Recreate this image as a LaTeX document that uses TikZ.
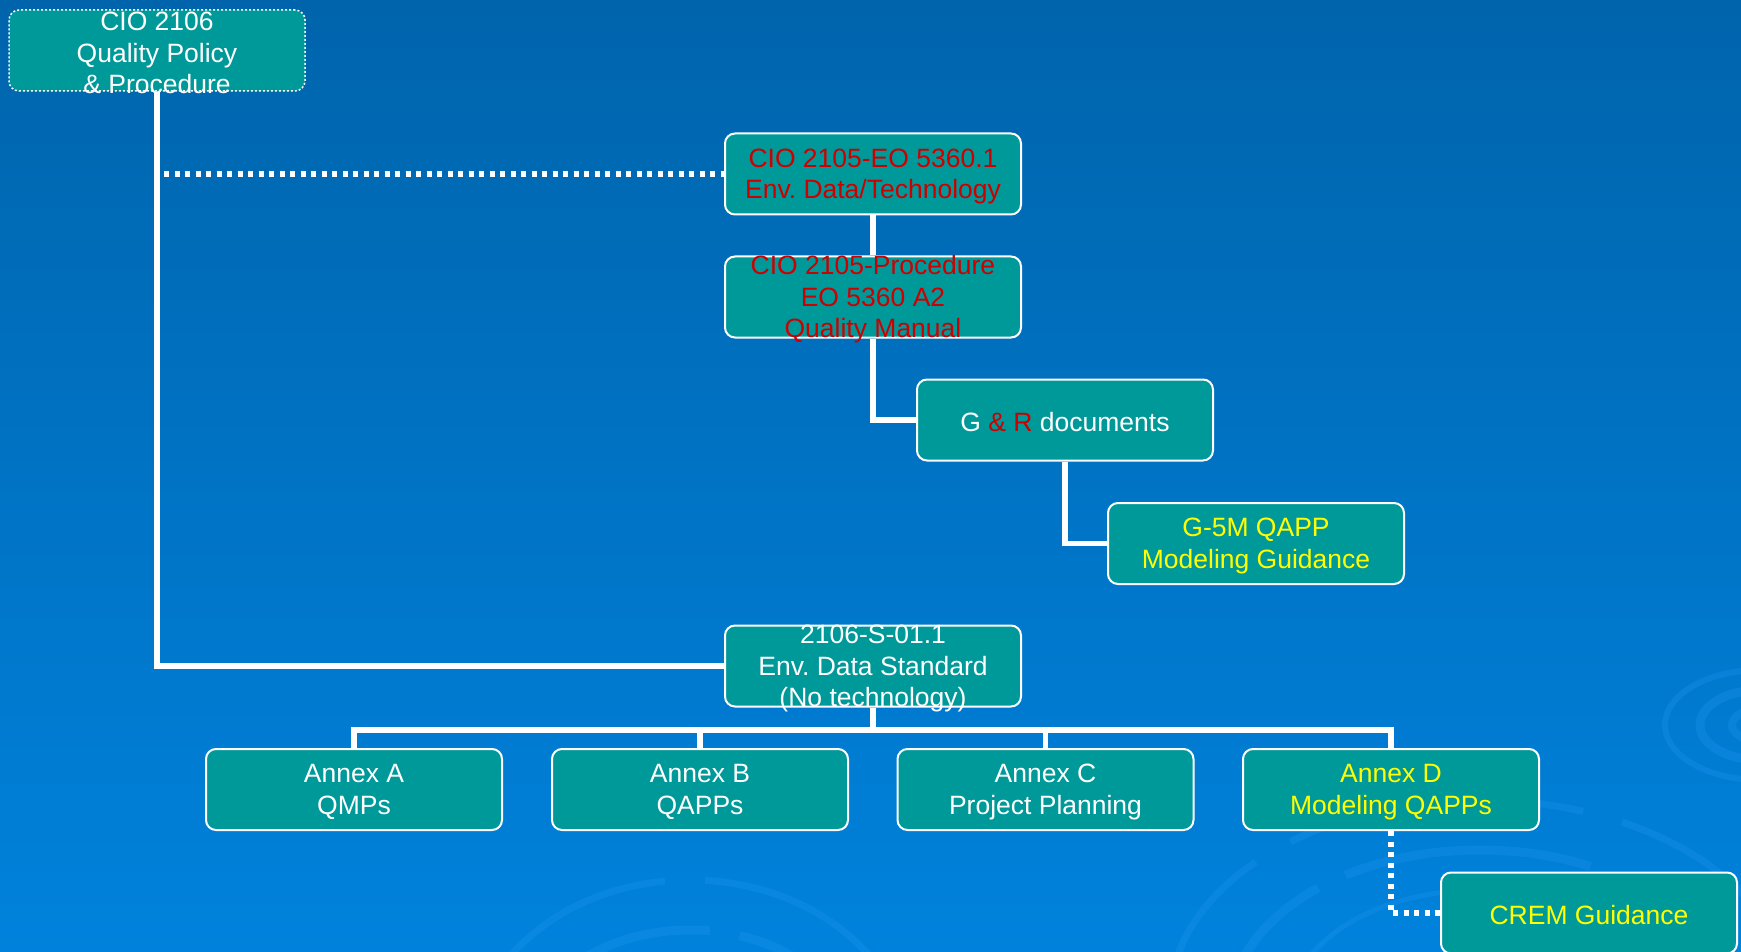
\documentclass[tikz,border=0pt]{standalone}
\usepackage{fontspec}
\setmainfont{Liberation Sans}
\frenchspacing
\definecolor{bgtop}{RGB}{0,100,172}
\definecolor{bgbot}{RGB}{0,130,220}
\definecolor{boxfill}{RGB}{0,153,153}
\definecolor{redtxt}{RGB}{204,0,0}
\definecolor{yeltxt}{RGB}{255,255,0}
\definecolor{swirl}{RGB}{30,150,240}
\begin{document}
\begin{tikzpicture}[x=1pt,y=-1pt,
  docbox/.style={draw=white, line width=2pt, fill=boxfill, rounded corners=10pt,
    minimum width=296pt, minimum height=81pt, inner sep=0pt},
  doctext/.style={align=center, font=\fontsize{26.5}{31.5}\selectfont, text=white, inner sep=0pt, yshift=-2.5pt},
  redt/.style={text=redtxt},
  yelt/.style={text=yeltxt},
  link/.style={draw=white, line width=5.5pt},
  dotlink/.style={draw=white, line width=5.5pt, dash pattern=on 5pt off 5.5pt},
  swirlarc/.style={draw=swirl, opacity=0.3, line width=7pt}]
\useasboundingbox (0,0) rectangle (1741,952);
\shade[top color=bgtop, bottom color=bgbot] (0,0) rectangle (1741,952);
% decorative swirls
\begin{scope}
\clip (0,0) rectangle (1741,952);
\draw[swirlarc, dash pattern=on 300pt off 40pt] (1480,1000) ellipse (310 and 200);
\draw[swirlarc, line width=9pt, dash pattern=on 250pt off 30pt] (1480,1010) ellipse (250 and 160);
\draw[swirlarc, line width=5pt] (1480,1010) ellipse (190 and 120);
\draw[swirlarc, dash pattern=on 200pt off 40pt] (690,1060) ellipse (220 and 180);
\draw[swirlarc, line width=9pt, dash pattern=on 160pt off 30pt] (690,1060) ellipse (170 and 130);
\draw[swirlarc, line width=6pt] (1760,725) ellipse (95 and 55);
\draw[swirlarc, line width=9pt] (1760,725) ellipse (60 and 35);
\draw[swirlarc, line width=8pt] (1760,725) ellipse (28 and 16);
\end{scope}
% boxes
\node[docbox, dotted, line width=1.5pt] (cio) at (157,50.5) {};
\node[docbox] (eo) at (873,174) {};
\node[docbox] (proc) at (873,297) {};
\node[docbox] (gr) at (1065,420) {};
\node[docbox] (g5m) at (1256,543.5) {};
\node[docbox] (std) at (873,666) {};
\node[docbox] (aA) at (354,789.5) {};
\node[docbox] (aB) at (700,789.5) {};
\node[docbox] (aC) at (1045.5,789.5) {};
\node[docbox] (aD) at (1391,789.5) {};
\node[docbox] (crem) at (1589,913) {};
% connectors
\draw[link] (cio.south) |- (std.west);
\draw[dotlink] (cio.south |- eo.west) ++(7,0) -- (eo.west);
\draw[link] (eo.south) -- (proc.north);
\draw[link] (proc.south) |- (gr.west);
\draw[link] (gr.south) |- (g5m.west);
\coordinate (bus) at (873,730);
\draw[link] (std.south) -- (bus);
\draw[link] (aA.north) |- (bus) -| (aD.north);
\draw[link] (aB.north) -- (aB.north |- bus);
\draw[link] (aC.north) -- (aC.north |- bus);
\draw[dotlink] (aD.south) |- (crem.west);
% texts
\node[doctext] (cio-t) at (cio) {CIO 2106\\Quality Policy\\\& Procedure};
\node[doctext, redt] (eo-t) at (eo) {CIO 2105-EO 5360.1\\Env. Data/Technology};
\node[doctext, redt] (proc-t) at (proc) {CIO 2105-Procedure\\EO 5360 A2\\Quality Manual};
\node[doctext] (gr-t) at (gr) {G {\color{redtxt}\& R} documents};
\node[doctext, yelt] (g5m-t) at (g5m) {G-5M QAPP\\Modeling Guidance};
\node[doctext] (std-t) at (std) {2106-S-01.1\\Env. Data Standard\\(No technology)};
\node[doctext] (aA-t) at (aA) {Annex A\\QMPs};
\node[doctext] (aB-t) at (aB) {Annex B\\QAPPs};
\node[doctext] (aC-t) at (aC) {Annex C\\Project Planning};
\node[doctext, yelt] (aD-t) at (aD) {Annex D\\Modeling QAPPs};
\node[doctext, yelt] (crem-t) at (crem) {CREM Guidance};
\end{tikzpicture}
\end{document}
